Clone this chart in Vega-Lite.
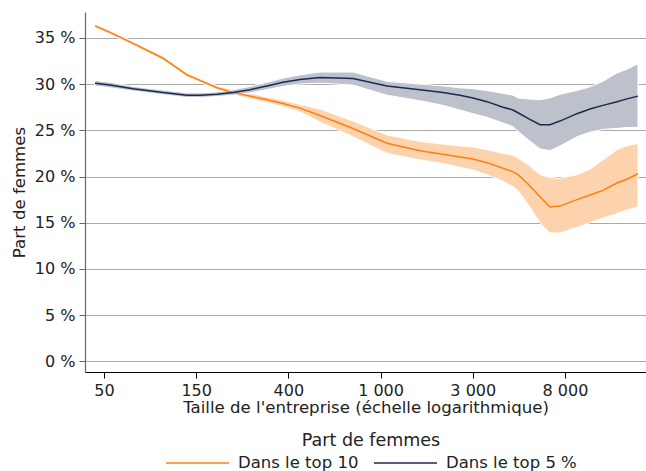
{
  "$schema": "https://vega.github.io/schema/vega-lite/v6.json",
  "autosize": "none",
  "width": 561,
  "height": 360,
  "padding": {"left": 85, "top": 12, "right": 0, "bottom": 99},
  "background": "white",
  "config": {
    "font": "DejaVu Sans",
    "view": {"stroke": null},
    "axis": {"labelFont": "DejaVu Sans", "titleFont": "DejaVu Sans", "labelFontSize": 16, "titleFontSize": 16.6, "labelColor": "#222", "titleColor": "#222", "titleFontWeight": "normal"},
    "legend": {"labelFont": "DejaVu Sans", "titleFont": "DejaVu Sans"}
  },
  "data": {
    "values": [
      {"s": "Dans le top 10", "x": 3.902, "y": 36.3, "lo": 36.1, "hi": 36.5},
      {"s": "Dans le top 10", "x": 4.065, "y": 35.6, "lo": 35.4, "hi": 35.8},
      {"s": "Dans le top 10", "x": 4.315, "y": 34.4, "lo": 34.2, "hi": 34.6},
      {"s": "Dans le top 10", "x": 4.640, "y": 32.8, "lo": 32.6, "hi": 33.0},
      {"s": "Dans le top 10", "x": 4.900, "y": 31.0, "lo": 30.8, "hi": 31.2},
      {"s": "Dans le top 10", "x": 5.041, "y": 30.4, "lo": 30.2, "hi": 30.6},
      {"s": "Dans le top 10", "x": 5.226, "y": 29.6, "lo": 29.4, "hi": 29.8},
      {"s": "Dans le top 10", "x": 5.399, "y": 29.1, "lo": 28.85, "hi": 29.35},
      {"s": "Dans le top 10", "x": 5.584, "y": 28.7, "lo": 28.4, "hi": 29.0},
      {"s": "Dans le top 10", "x": 5.768, "y": 28.3, "lo": 28.0, "hi": 28.6},
      {"s": "Dans le top 10", "x": 5.941, "y": 27.9, "lo": 27.55, "hi": 28.25},
      {"s": "Dans le top 10", "x": 6.126, "y": 27.4, "lo": 27.0, "hi": 27.8},
      {"s": "Dans le top 10", "x": 6.343, "y": 26.6, "lo": 25.9, "hi": 27.3},
      {"s": "Dans le top 10", "x": 6.701, "y": 25.2, "lo": 24.3, "hi": 26.0},
      {"s": "Dans le top 10", "x": 7.069, "y": 23.6, "lo": 22.5, "hi": 24.5},
      {"s": "Dans le top 10", "x": 7.427, "y": 22.8, "lo": 21.8, "hi": 23.8},
      {"s": "Dans le top 10", "x": 7.677, "y": 22.4, "lo": 21.4, "hi": 23.5},
      {"s": "Dans le top 10", "x": 7.861, "y": 22.1, "lo": 21.0, "hi": 23.3},
      {"s": "Dans le top 10", "x": 8.002, "y": 21.9, "lo": 20.7, "hi": 23.2},
      {"s": "Dans le top 10", "x": 8.154, "y": 21.5, "lo": 20.2, "hi": 22.9},
      {"s": "Dans le top 10", "x": 8.328, "y": 20.9, "lo": 19.5, "hi": 22.5},
      {"s": "Dans le top 10", "x": 8.436, "y": 20.5, "lo": 18.9, "hi": 22.3},
      {"s": "Dans le top 10", "x": 8.490, "y": 20.2, "lo": 18.5, "hi": 22.0},
      {"s": "Dans le top 10", "x": 8.599, "y": 19.2, "lo": 17.0, "hi": 21.3},
      {"s": "Dans le top 10", "x": 8.729, "y": 17.8, "lo": 15.0, "hi": 20.2},
      {"s": "Dans le top 10", "x": 8.837, "y": 16.7, "lo": 13.9, "hi": 19.9},
      {"s": "Dans le top 10", "x": 8.946, "y": 16.8, "lo": 13.9, "hi": 19.8},
      {"s": "Dans le top 10", "x": 9.130, "y": 17.5, "lo": 14.5, "hi": 20.2},
      {"s": "Dans le top 10", "x": 9.271, "y": 18.0, "lo": 15.0, "hi": 20.8},
      {"s": "Dans le top 10", "x": 9.412, "y": 18.5, "lo": 15.5, "hi": 21.8},
      {"s": "Dans le top 10", "x": 9.564, "y": 19.3, "lo": 16.0, "hi": 22.9},
      {"s": "Dans le top 10", "x": 9.672, "y": 19.7, "lo": 16.4, "hi": 23.3},
      {"s": "Dans le top 10", "x": 9.792, "y": 20.3, "lo": 16.7, "hi": 23.6},
      {"s": "Dans le top 5 %", "x": 3.902, "y": 30.1, "lo": 29.8, "hi": 30.4},
      {"s": "Dans le top 5 %", "x": 4.065, "y": 29.9, "lo": 29.6, "hi": 30.2},
      {"s": "Dans le top 5 %", "x": 4.315, "y": 29.5, "lo": 29.25, "hi": 29.75},
      {"s": "Dans le top 5 %", "x": 4.640, "y": 29.1, "lo": 28.85, "hi": 29.35},
      {"s": "Dans le top 5 %", "x": 4.900, "y": 28.8, "lo": 28.55, "hi": 29.05},
      {"s": "Dans le top 5 %", "x": 5.041, "y": 28.8, "lo": 28.55, "hi": 29.05},
      {"s": "Dans le top 5 %", "x": 5.226, "y": 28.9, "lo": 28.65, "hi": 29.15},
      {"s": "Dans le top 5 %", "x": 5.399, "y": 29.1, "lo": 28.8, "hi": 29.4},
      {"s": "Dans le top 5 %", "x": 5.584, "y": 29.4, "lo": 29.05, "hi": 29.75},
      {"s": "Dans le top 5 %", "x": 5.768, "y": 29.8, "lo": 29.4, "hi": 30.2},
      {"s": "Dans le top 5 %", "x": 5.941, "y": 30.2, "lo": 29.75, "hi": 30.65},
      {"s": "Dans le top 5 %", "x": 6.126, "y": 30.5, "lo": 30.0, "hi": 31.0},
      {"s": "Dans le top 5 %", "x": 6.343, "y": 30.7, "lo": 30.1, "hi": 31.3},
      {"s": "Dans le top 5 %", "x": 6.701, "y": 30.6, "lo": 29.9, "hi": 31.3},
      {"s": "Dans le top 5 %", "x": 7.069, "y": 29.8, "lo": 28.8, "hi": 30.3},
      {"s": "Dans le top 5 %", "x": 7.427, "y": 29.4, "lo": 28.2, "hi": 30.0},
      {"s": "Dans le top 5 %", "x": 7.677, "y": 29.1, "lo": 27.7, "hi": 29.8},
      {"s": "Dans le top 5 %", "x": 7.861, "y": 28.8, "lo": 27.2, "hi": 29.6},
      {"s": "Dans le top 5 %", "x": 8.002, "y": 28.5, "lo": 26.8, "hi": 29.5},
      {"s": "Dans le top 5 %", "x": 8.154, "y": 28.1, "lo": 26.4, "hi": 29.3},
      {"s": "Dans le top 5 %", "x": 8.328, "y": 27.5, "lo": 25.8, "hi": 29.0},
      {"s": "Dans le top 5 %", "x": 8.436, "y": 27.2, "lo": 25.4, "hi": 28.8},
      {"s": "Dans le top 5 %", "x": 8.490, "y": 26.9, "lo": 24.9, "hi": 28.5},
      {"s": "Dans le top 5 %", "x": 8.599, "y": 26.3, "lo": 24.0, "hi": 28.4},
      {"s": "Dans le top 5 %", "x": 8.729, "y": 25.6, "lo": 23.0, "hi": 28.3},
      {"s": "Dans le top 5 %", "x": 8.837, "y": 25.6, "lo": 22.8, "hi": 28.5},
      {"s": "Dans le top 5 %", "x": 8.946, "y": 26.0, "lo": 23.3, "hi": 28.9},
      {"s": "Dans le top 5 %", "x": 9.130, "y": 26.8, "lo": 24.3, "hi": 29.3},
      {"s": "Dans le top 5 %", "x": 9.271, "y": 27.3, "lo": 24.8, "hi": 29.7},
      {"s": "Dans le top 5 %", "x": 9.412, "y": 27.7, "lo": 25.1, "hi": 30.3},
      {"s": "Dans le top 5 %", "x": 9.564, "y": 28.1, "lo": 25.2, "hi": 31.2},
      {"s": "Dans le top 5 %", "x": 9.672, "y": 28.4, "lo": 25.3, "hi": 31.6},
      {"s": "Dans le top 5 %", "x": 9.792, "y": 28.7, "lo": 25.3, "hi": 32.2}
    ]
  },
  "encoding": {
    "x": {
      "field": "x", "type": "quantitative",
      "scale": {"domain": [3.794, 9.879], "nice": false, "zero": false},
      "axis": {
        "title": "Taille de l'entreprise (échelle logarithmique)",
        "values": [4, 5, 6, 7, 8, 9],
        "labelExpr": "['50','150','400','1 000','3 000','8 000'][datum.value - 4]",
        "grid": false, "domainColor": "#000", "domainWidth": 1.2,
        "tickColor": "#000", "tickSize": 6, "labelPadding": 4, "titlePadding": 1
      }
    },
    "y": {
      "field": "y", "type": "quantitative",
      "scale": {"domain": [-1.15, 37.8], "nice": false, "zero": false},
      "axis": {
        "title": "Part de femmes",
        "values": [0, 5, 10, 15, 20, 25, 30, 35],
        "labelExpr": "datum.value + ' %'",
        "grid": true, "gridColor": "#aaaaaa", "gridWidth": 1,
        "domainColor": "#666", "domainWidth": 1.2,
        "tickColor": "#666", "tickSize": 6, "labelPadding": 4, "titlePadding": 7
      }
    }
  },
  "layer": [
    {
      "transform": [{"filter": "datum.s == 'Dans le top 10'"}],
      "mark": {"type": "area", "fill": "#fdd3ad", "stroke": "white", "strokeWidth": 1},
      "encoding": {"y": {"field": "lo", "type": "quantitative"}, "y2": {"field": "hi"}}
    },
    {
      "transform": [{"filter": "datum.s == 'Dans le top 5 %'"}],
      "mark": {"type": "area", "fill": "#bcc1cc", "stroke": "white", "strokeWidth": 1},
      "encoding": {"y": {"field": "lo", "type": "quantitative"}, "y2": {"field": "hi"}}
    },
    {
      "mark": {"type": "line", "strokeWidth": 1.5},
      "encoding": {
        "color": {
          "field": "s", "type": "nominal",
          "scale": {"domain": ["Dans le top 10", "Dans le top 5 %"], "range": ["#ff7f0e", "#1b2a4e"]},
          "legend": {
            "title": "Part de femmes",
            "orient": "none", "direction": "horizontal",
            "legendX": 80, "legendY": 420,
            "titleFontSize": 17.5, "titleFontWeight": "normal", "titleColor": "#222",
            "titleAnchor": "middle", "titleAlign": "center", "titlePadding": 2,
            "labelFontSize": 16.5, "labelColor": "#222", "labelOffset": 50,
            "symbolType": "M-1,0H5", "symbolSize": 441, "symbolStrokeWidth": 1.5,
            "columnPadding": 12
          }
        }
      }
    }
  ]
}
